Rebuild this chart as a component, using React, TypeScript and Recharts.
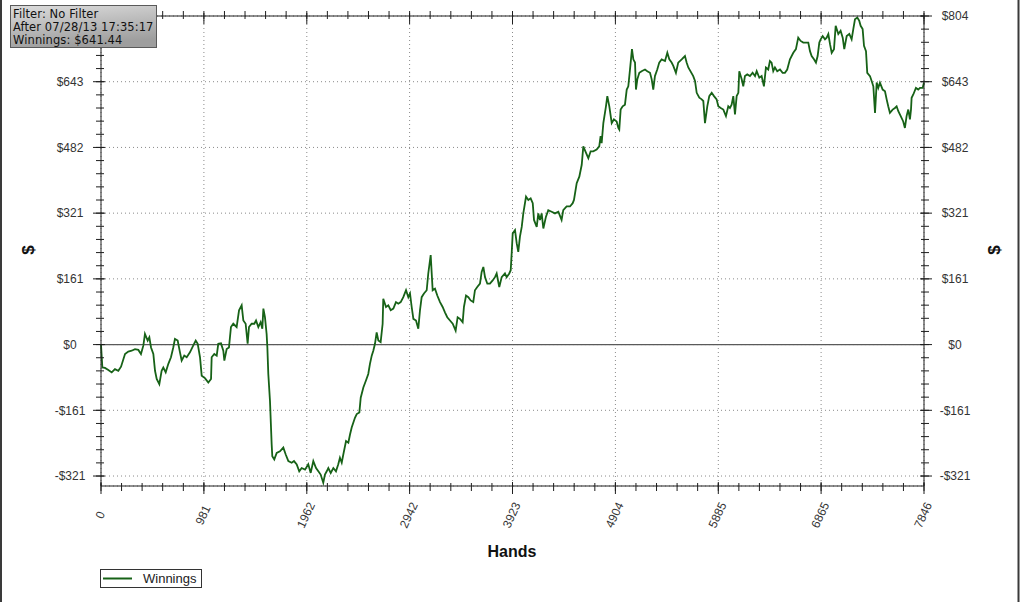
import React from "react";
import { LineChart, Line, XAxis, YAxis, CartesianGrid, ReferenceLine } from "recharts";

// ---- data ----
const hands: number[] = [
  0, 6, 13, 38, 70, 102, 133, 165, 191, 229, 260, 292, 324, 356, 381, 404, 419, 445, 461, 477,
  499, 515, 531, 556, 578, 594, 617, 642, 667, 689, 705, 731, 753, 769, 794, 817, 848, 880, 903, 922,
  944, 960, 991, 1023, 1049, 1055, 1080, 1103, 1118, 1144, 1166, 1176, 1198, 1220, 1239, 1261, 1293, 1316, 1341, 1357,
  1379, 1398, 1411, 1436, 1462, 1478, 1500, 1522, 1538, 1548, 1563, 1579, 1586, 1595, 1611, 1627, 1633, 1652, 1675, 1706,
  1738, 1761, 1786, 1818, 1840, 1866, 1890, 1913, 1945, 1976, 1999, 2024, 2050, 2072, 2094, 2119, 2135, 2152, 2167, 2190,
  2215, 2240, 2262, 2278, 2295, 2310, 2336, 2358, 2374, 2390, 2421, 2438, 2463, 2476, 2501, 2526, 2548, 2564, 2581, 2596,
  2612, 2628, 2644, 2666, 2685, 2691, 2717, 2739, 2762, 2787, 2812, 2834, 2857, 2882, 2908, 2930, 2946, 2962, 2978, 3003,
  3025, 3041, 3057, 3079, 3105, 3120, 3143, 3162, 3184, 3206, 3232, 3257, 3279, 3301, 3327, 3353, 3381, 3400, 3422, 3448,
  3460, 3480, 3502, 3524, 3549, 3565, 3587, 3613, 3629, 3645, 3661, 3683, 3708, 3734, 3756, 3772, 3797, 3820, 3851, 3867,
  3892, 3906, 3915, 3925, 3947, 3963, 3978, 3994, 4011, 4026, 4052, 4074, 4096, 4116, 4128, 4154, 4169, 4185, 4201, 4217,
  4242, 4264, 4296, 4328, 4360, 4391, 4407, 4439, 4471, 4497, 4509, 4535, 4560, 4583, 4598, 4624, 4646, 4668, 4693, 4725,
  4750, 4763, 4773, 4789, 4814, 4827, 4846, 4869, 4890, 4916, 4932, 4941, 4954, 4973, 4995, 5012, 5027, 5043, 5062, 5075,
  5091, 5100, 5113, 5132, 5154, 5186, 5208, 5234, 5250, 5265, 5281, 5303, 5322, 5345, 5377, 5399, 5418, 5440, 5456, 5481,
  5503, 5536, 5567, 5583, 5599, 5646, 5663, 5679, 5704, 5727, 5742, 5758, 5780, 5799, 5822, 5844, 5869, 5885, 5908, 5933,
  5958, 5980, 5996, 6012, 6028, 6044, 6060, 6076, 6085, 6108, 6123, 6139, 6161, 6187, 6212, 6235, 6251, 6276, 6298, 6320,
  6339, 6361, 6377, 6393, 6409, 6425, 6447, 6473, 6498, 6520, 6542, 6568, 6600, 6625, 6647, 6670, 6695, 6721, 6743, 6759,
  6775, 6797, 6816, 6832, 6848, 6861, 6880, 6902, 6918, 6934, 6950, 6966, 6988, 7004, 7029, 7051, 7071, 7086, 7109, 7134,
  7156, 7172, 7188, 7210, 7229, 7242, 7261, 7274, 7293, 7305, 7331, 7347, 7363, 7379, 7395, 7410, 7426, 7452, 7474, 7490,
  7505, 7521, 7547, 7569, 7585, 7601, 7624, 7648, 7664, 7680, 7696, 7712, 7722, 7728, 7744, 7769, 7791, 7808, 7833, 7846,
];

const winnings: number[] = [
  0, -27, -56, -57, -62, -68, -60, -64, -54, -23, -17, -15, -11, -13, -23, -2, 26, 10, 18, -7,
  -23, -64, -84, -97, -64, -56, -68, -47, -31, -7, 14, 10, -19, -39, -27, -31, -19, -2, 10, 2,
  -31, -76, -82, -93, -84, -31, -23, -27, 2, 3, -15, -39, -11, -7, 43, 51, 43, 84, 96, 59,
  51, 2, 43, 51, 51, 59, 43, 55, 39, 88, 67, 26, -7, -72, -138, -244, -273, -281, -265, -261,
  -252, -269, -285, -289, -285, -293, -310, -302, -306, -293, -314, -285, -302, -310, -318, -338, -318, -310, -302, -314,
  -302, -310, -293, -277, -289, -269, -236, -240, -220, -203, -179, -170, -166, -130, -105, -88, -72, -47, -27, -15,
  2, 30, 10, 6, 51, 112, 92, 96, 84, 88, 104, 100, 104, 116, 133, 116, 125, 92, 63, 59,
  39, 84, 116, 125, 133, 174, 219, 133, 137, 120, 104, 92, 79, 67, 59, 51, 34, 67, 63, 55,
  92, 120, 116, 108, 104, 133, 141, 149, 178, 190, 165, 149, 149, 157, 165, 174, 141, 165, 174, 165,
  174, 182, 223, 272, 280, 248, 227, 264, 288, 321, 362, 354, 358, 346, 305, 288, 321, 305, 321, 284,
  313, 329, 325, 321, 325, 305, 329, 338, 338, 346, 354, 395, 411, 440, 485, 469, 456, 473, 473, 477,
  485, 510, 493, 542, 583, 608, 583, 542, 551, 546, 530, 526, 575, 583, 587, 624, 632, 673, 723, 698,
  690, 624, 649, 665, 669, 673, 669, 665, 649, 624, 657, 673, 690, 698, 694, 714, 698, 690, 682, 665,
  690, 698, 706, 690, 678, 657, 645, 616, 604, 600, 596, 542, 583, 608, 616, 608, 600, 583, 579, 575,
  559, 583, 579, 587, 608, 563, 608, 616, 669, 649, 632, 657, 661, 657, 665, 657, 669, 653, 657, 632,
  678, 673, 694, 690, 669, 678, 669, 673, 665, 665, 673, 698, 714, 723, 751, 743, 739, 739, 739, 718,
  706, 698, 690, 706, 739, 747, 755, 747, 751, 760, 735, 714, 723, 780, 760, 768, 751, 723, 755, 760,
  747, 772, 796, 800, 792, 780, 772, 731, 718, 665, 657, 645, 632, 567, 641, 628, 641, 624, 620, 600,
  583, 567, 575, 579, 583, 571, 559, 546, 530, 559, 575, 551, 575, 604, 612, 628, 624, 628, 628, 641.44,
];

const xMajorTicks: number[] = [0, 981, 1962, 2942, 3923, 4904, 5885, 6865, 7846];
const xMinorTicks: number[] = [
  0, 196, 392, 588, 785, 981, 1177, 1373, 1569, 1765, 1962, 2158, 2354, 2550, 2746, 2942, 3138, 3335, 3531, 3727,
  3923, 4119, 4315, 4511, 4708, 4904, 5100, 5296, 5492, 5688, 5885, 6081, 6277, 6473, 6669, 6865, 7061, 7258, 7454, 7650, 7846,
];
const yMajorTicks: number[] = [-321.6, -160.8, 0, 160.8, 321.6, 482.4, 643.2, 804];
const yTickLabels: string[] = ["-$321", "-$161", "$0", "$161", "$321", "$482", "$643", "$804"];
// the left "$804" label is hidden under the info box in the reference
const leftHiddenLabels: string[] = ["$804"];
const yMinorTicks: number[] = [
  -321.6, -289.44, -257.28, -225.12, -192.96, -160.8, -128.64, -96.48, -64.32, -32.16, 0, 32.16, 64.32, 96.48, 128.64,
  160.8, 192.96, 225.12, 257.28, 289.44, 321.6, 353.76, 385.92, 418.08, 450.24, 482.4, 514.56, 546.72, 578.88, 611.04,
  643.2, 675.36, 707.52, 739.68, 771.84, 804,
];
const xDomain: number[] = [0, 7846];
const yDomain: number[] = [-346, 804];

const infoLines: string[] = ["Filter: No Filter", "After 07/28/13 17:35:17", "Winnings: $641.44"];
const seriesName = "Winnings";
const xTitle = "Hands";
const yTitle = "$";

const data = hands.map((h, i) => ({ h, v: winnings[i] }));

// ---- styles ----
const AXIS = "#1e1e1e";
const LINE = "#176217";
const LABEL_FONT = "'Liberation Sans', Arial, sans-serif";
const LABEL_COLOR = "#333";

const yLabel = (v: number) => {
  const i = yMajorTicks.indexOf(v);
  return i >= 0 ? yTickLabels[i] : "";
};

const BottomTick = (p: any) => {
  const { x, y, payload } = p;
  const cx = x - 1;
  const cy = y + 29;
  return (
    <g>
      <line x1={x} x2={x} y1={y - 4} y2={y + 8} stroke={AXIS} strokeWidth={1} />
      <text
        x={cx}
        y={cy}
        dy="0.35em"
        textAnchor="middle"
        transform={`rotate(-65 ${cx} ${cy})`}
        fontSize={12}
        fontFamily={LABEL_FONT}
        fill={LABEL_COLOR}
      >
        {payload.value}
      </text>
    </g>
  );
};

const TopTick = (p: any) => {
  const { x, y } = p;
  return <line x1={x} x2={x} y1={y - 3} y2={y + 8} stroke={AXIS} strokeWidth={1} />;
};

const VMinorTick = (p: any) => {
  const { x, y } = p;
  return <line x1={x} x2={x} y1={y - 4} y2={y + 4} stroke={AXIS} strokeWidth={1} />;
};

const LeftTick = (p: any) => {
  const { x, y, payload } = p;
  const label = yLabel(payload.value);
  return (
    <g>
      <line x1={x - 8} x2={x + 4} y1={y} y2={y} stroke={AXIS} strokeWidth={1} />
      {leftHiddenLabels.indexOf(label) < 0 && (
        <text x={x - 31} y={y} dy="0.35em" textAnchor="middle" fontSize={12} fontFamily={LABEL_FONT} fill={LABEL_COLOR}>
          {label}
        </text>
      )}
    </g>
  );
};

const RightTick = (p: any) => {
  const { x, y, payload } = p;
  return (
    <g>
      <line x1={x - 4} x2={x + 8} y1={y} y2={y} stroke={AXIS} strokeWidth={1} />
      <text x={x + 31} y={y} dy="0.35em" textAnchor="middle" fontSize={12} fontFamily={LABEL_FONT} fill={LABEL_COLOR}>
        {yLabel(payload.value)}
      </text>
    </g>
  );
};

const HMinorTick = (p: any) => {
  const { x, y } = p;
  return <line x1={x - 4} x2={x + 4} y1={y} y2={y} stroke={AXIS} strokeWidth={1} />;
};

const common = { interval: 0 as const, tickSize: 0, tickMargin: 0, tickLine: false };

export default function App() {
  return (
    <div style={{ position: "absolute", left: 0, top: 0, width: 1024, height: 602, background: "#fff", overflow: "hidden" }}>
      <LineChart width={1024} height={602} data={data} margin={{ top: 14, right: 98, bottom: 114, left: 99 }}>
        <CartesianGrid xAxisId="b" yAxisId="l" stroke="#8a8a8a" strokeDasharray="1 3" fill="none" />
        <XAxis xAxisId="b" dataKey="h" type="number" domain={xDomain} ticks={xMajorTicks} height={1} {...common}
          axisLine={{ stroke: AXIS }} tick={<BottomTick />} />
        <XAxis xAxisId="bm" dataKey="h" type="number" domain={xDomain} ticks={xMinorTicks} height={1} {...common}
          axisLine={false} tick={<VMinorTick />} />
        <XAxis xAxisId="t" orientation="top" dataKey="h" type="number" domain={xDomain} ticks={xMajorTicks} height={1} {...common}
          axisLine={{ stroke: AXIS }} tick={<TopTick />} />
        <XAxis xAxisId="tm" orientation="top" dataKey="h" type="number" domain={xDomain} ticks={xMinorTicks} height={1} {...common}
          axisLine={false} tick={<VMinorTick />} />
        <YAxis yAxisId="l" type="number" domain={yDomain} ticks={yMajorTicks} width={1} {...common}
          axisLine={{ stroke: AXIS }} tick={<LeftTick />} />
        <YAxis yAxisId="lm" type="number" domain={yDomain} ticks={yMinorTicks} width={1} {...common}
          axisLine={false} tick={<HMinorTick />} />
        <YAxis yAxisId="r" orientation="right" type="number" domain={yDomain} ticks={yMajorTicks} width={1} {...common}
          axisLine={{ stroke: AXIS }} tick={<RightTick />} />
        <YAxis yAxisId="rm" orientation="right" type="number" domain={yDomain} ticks={yMinorTicks} width={1} {...common}
          axisLine={false} tick={<HMinorTick />} />
        <ReferenceLine xAxisId="b" yAxisId="l" y={0} stroke="#5a5a5a" strokeWidth={1.2} />
        <Line xAxisId="bm" yAxisId="lm" dataKey="v" stroke="none" dot={false} activeDot={false} isAnimationActive={false} legendType="none" />
        <Line xAxisId="t" yAxisId="r" dataKey="v" stroke="none" dot={false} activeDot={false} isAnimationActive={false} legendType="none" />
        <Line xAxisId="tm" yAxisId="rm" dataKey="v" stroke="none" dot={false} activeDot={false} isAnimationActive={false} legendType="none" />
        <Line
          xAxisId="b"
          yAxisId="l"
          type="linear"
          dataKey="v"
          name={seriesName}
          stroke={LINE}
          strokeWidth={1.8}
          dot={false}
          activeDot={false}
          isAnimationActive={false}
        />
      </LineChart>
      <svg width={1024} height={602} style={{ position: "absolute", left: 0, top: 0, pointerEvents: "none" }}>
        <defs>
          <linearGradient id="infoBg" x1="0" y1="0" x2="0.3" y2="1">
            <stop offset="0" stopColor="#dcdcdc" />
            <stop offset="1" stopColor="#9e9e9e" />
          </linearGradient>
        </defs>
        <line x1={1} x2={1} y1={0} y2={602} stroke="#3a3a3a" strokeWidth={2} />
        <line x1={1018.5} x2={1018.5} y1={0} y2={602} stroke="#3a3a3a" strokeWidth={2} />
        <rect x={10.5} y={5.5} width={146} height={42} fill="url(#infoBg)" stroke="#5a5a5a" strokeWidth={1} />
        {infoLines.map((t, i) => (
          <text key={i} x={13} y={17.5 + i * 13.4} fontSize={11.5} letterSpacing={0.1} fontFamily="'DejaVu Sans', Verdana, sans-serif" fill="#111">
            {t}
          </text>
        ))}
        <text x={512} y={557} textAnchor="middle" fontSize={16} fontWeight="bold" fontFamily={LABEL_FONT} fill="#111">
          {xTitle}
        </text>
        <text x={28} y={250} dy="0.35em" textAnchor="middle" fontSize={17} fontWeight="bold" fontFamily={LABEL_FONT} fill="#111" transform="rotate(-90 28 250)">
          {yTitle}
        </text>
        <text x={994} y={250} dy="0.35em" textAnchor="middle" fontSize={17} fontWeight="bold" fontFamily={LABEL_FONT} fill="#111" transform="rotate(-90 994 250)">
          {yTitle}
        </text>
        <rect x={100.5} y={569.5} width={101} height={18} fill="#fff" stroke="#333" strokeWidth={1} />
        <line x1={103} x2={132} y1={578.5} y2={578.5} stroke={LINE} strokeWidth={2} />
        <text x={143} y={583} fontSize={13} fontFamily={LABEL_FONT} fill="#222">
          {seriesName}
        </text>
      </svg>
    </div>
  );
}
